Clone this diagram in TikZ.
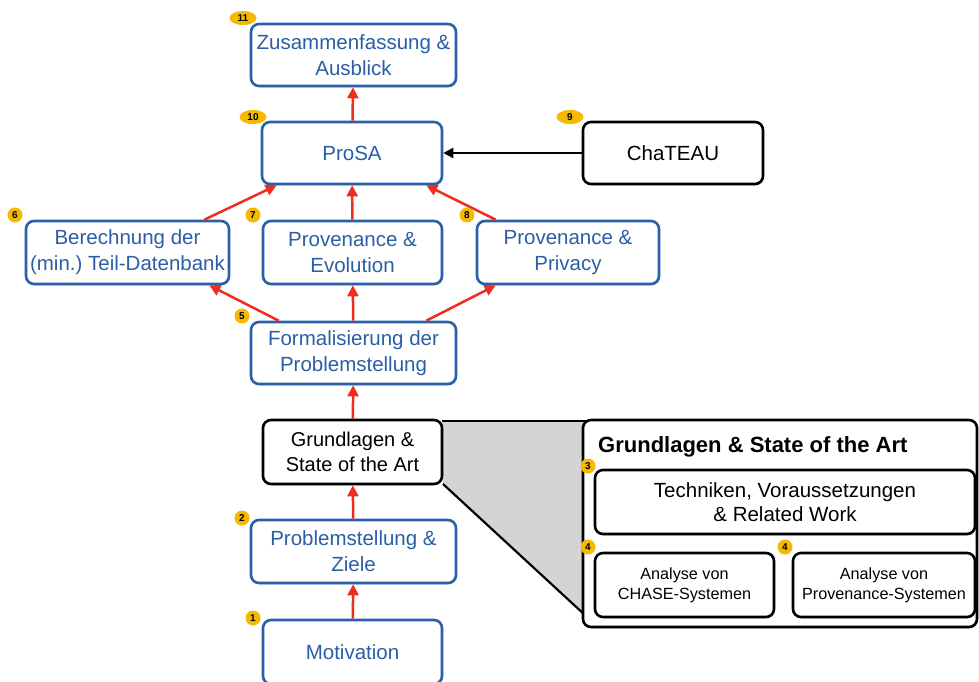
\documentclass[tikz,border=0pt]{standalone}
\usepackage{fontspec}
\setmainfont{Liberation Sans}
\usetikzlibrary{arrows.meta,shadows,shapes.geometric}
\definecolor{bblue}{RGB}{42,96,168}
\definecolor{tblue}{RGB}{44,94,166}
\definecolor{ared}{RGB}{238,45,30}
\definecolor{byel}{RGB}{245,185,0}
\definecolor{gfill}{RGB}{212,212,212}
\frenchspacing
\tikzset{
  bluebox/.style={draw=bblue, line width=2.6pt, rounded corners=8pt, fill=white, inner sep=1pt,
    text=tblue, align=center, font=\fontsize{20.5}{26}\selectfont,
    drop shadow={opacity=0.25, shadow xshift=1pt, shadow yshift=-1.5pt}},
  blackbox/.style={draw=black, line width=2.6pt, rounded corners=8pt, fill=white, inner sep=1pt,
    text=black, align=center,
    drop shadow={opacity=0.25, shadow xshift=1pt, shadow yshift=-1.5pt}},
  badge/.style={fill=byel, ellipse, inner sep=0pt, minimum height=15pt, minimum width=15pt,
    font=\fontsize{10}{10}\selectfont\bfseries, text=black},
  widebadge/.style={badge, minimum width=27pt, minimum height=14pt},
  redarrow/.style={draw=ared, line width=2.5pt, -{Triangle[width=11pt,length=11pt]}},
  blackarrow/.style={draw=black, line width=2.2pt, -{Triangle[width=10pt,length=10pt]}},
}
\begin{document}
\begin{tikzpicture}[x=1pt,y=-1pt]
\useasboundingbox (0,0) rectangle (979,682);
% gray zoom polygon
\fill[gfill] (442,421) -- (592,421) -- (586,616) -- (443,484) -- cycle;
\draw[line width=2.2pt] (442,421) -- (592,421);
\draw[line width=2.2pt] (443,484) -- (586,616);
% big box
\node[blackbox, minimum width=394pt, minimum height=207pt] (big) at (780,523.5) {};
\node[anchor=west, inner sep=0pt, font=\fontsize{22}{24}\selectfont\bfseries] (bigtitle) at (598,447) {Grundlagen \& State of the Art};
\node[blackbox, minimum width=380pt, minimum height=64pt, font=\fontsize{20.5}{23.5}\selectfont] (tech) at (785,502) {Techniken, Voraussetzungen\\\& Related Work};
\node[blackbox, minimum width=179pt, minimum height=64pt, font=\fontsize{16.2}{20}\selectfont] (chase) at (684.5,585) {Analyse von\\CHASE-Systemen};
\node[blackbox, minimum width=182pt, minimum height=64pt, font=\fontsize{16.2}{20}\selectfont] (provsys) at (884,585) {Analyse von\\Provenance-Systemen};
% main boxes
\node[bluebox, minimum width=205pt, minimum height=62pt] (zus) at (353.5,55) {Zusammenfassung \&\\Ausblick};
\node[bluebox, minimum width=180pt, minimum height=62pt] (prosa) at (352,153) {ProSA};
\node[blackbox, minimum width=180pt, minimum height=62pt, font=\fontsize{20.5}{26}\selectfont] (chateau) at (673,153) {ChaTEAU};
\node[bluebox, minimum width=203pt, minimum height=63pt] (ber) at (127.5,252.5) {Berechnung der\\(min.) Teil-Datenbank};
\node[bluebox, minimum width=179pt, minimum height=63pt] (evo) at (352.5,252.5) {Provenance \&\\Evolution};
\node[bluebox, minimum width=182pt, minimum height=63pt] (priv) at (568,252.5) {Provenance \&\\Privacy};
\node[bluebox, minimum width=205pt, minimum height=62pt] (form) at (353.5,353) {Formalisierung der\\Problemstellung};
\node[blackbox, minimum width=179pt, minimum height=64pt, font=\fontsize{20}{25}\selectfont] (grund) at (352.5,452) {Grundlagen \&\\State of the Art};
\node[bluebox, minimum width=205pt, minimum height=63pt] (prob) at (353.5,551.5) {Problemstellung \&\\Ziele};
\node[bluebox, minimum width=179pt, minimum height=64pt] (mot) at (352.5,652) {Motivation};
% arrows
\draw[redarrow] (mot) -- (prob);
\draw[redarrow] (prob) -- (grund);
\draw[redarrow] (grund) -- (form);
\draw[redarrow] (form) -- (evo);
\draw[redarrow] ([xshift=29pt]form.north west) -- ([xshift=-21pt]ber.south east);
\draw[redarrow] ([xshift=-31pt]form.north east) -- ([xshift=20pt]priv.south west);
\draw[redarrow] (evo) -- (prosa);
\draw[redarrow] ([xshift=-26pt]ber.north east) -- ([xshift=16pt]prosa.south west);
\draw[redarrow] ([xshift=20pt]priv.north west) -- ([xshift=-17pt]prosa.south east);
\draw[redarrow] (prosa) -- (zus);
\draw[blackarrow] (chateau) -- (prosa);
% badges
\node[widebadge] (b11) at (243,18) {11};
\node[widebadge] (b10) at (253,117) {10};
\node[widebadge] (b9) at (570,117) {9};
\node[badge] (b6) at (15,215) {6};
\node[badge] (b7) at (253,215) {7};
\node[badge] (b8) at (467,215) {8};
\node[badge] (b5) at (242,316) {5};
\node[badge] (b2) at (242,518) {2};
\node[badge] (b1) at (253,618) {1};
\node[badge] (b3) at (588,466) {3};
\node[badge] (b4a) at (588,547) {4};
\node[badge] (b4b) at (785,547) {4};
\end{tikzpicture}
\end{document}
